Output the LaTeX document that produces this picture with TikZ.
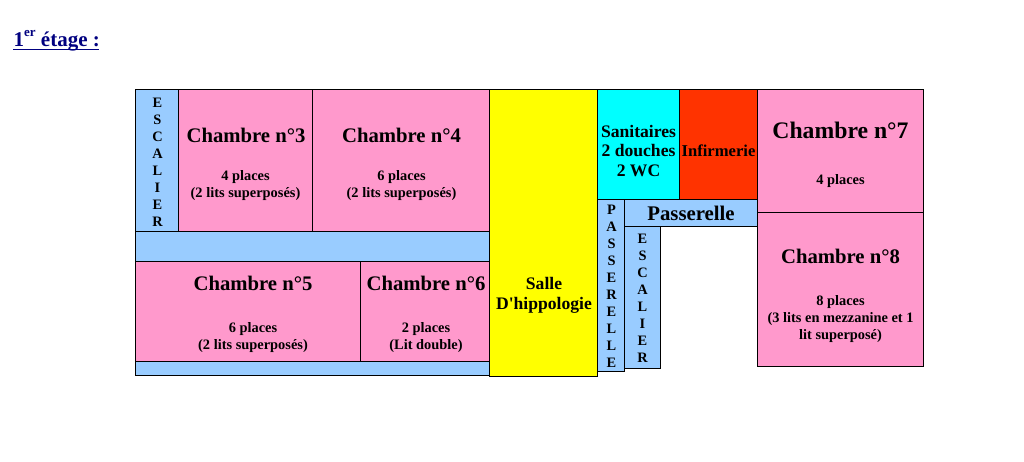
\documentclass[tikz,border=0pt]{standalone}
\usepackage{fontspec}
\setmainfont{Liberation Serif}
\definecolor{rose}{HTML}{FF99CC}
\definecolor{bleu}{HTML}{99CCFF}
\definecolor{jaune}{HTML}{FFFF00}
\definecolor{cyanb}{HTML}{00FFFF}
\definecolor{rouge}{HTML}{FF3300}
\definecolor{titre}{HTML}{000080}
\newcommand{\fs}[1]{\fontsize{#1}{#1}\selectfont\bfseries}
\newcommand{\room}[6]{%
  \pgfmathsetmacro{\rw}{#4-#2}\pgfmathsetmacro{\rh}{#5-#3}%
  \pgfmathsetmacro{\rx}{(#4+#2)/2}\pgfmathsetmacro{\ry}{(#5+#3)/2}%
  \node[roombox,fill=#6,minimum width=\rw pt,minimum height=\rh pt] (#1) at (\rx,\ry) {};}
\tikzset{
  roombox/.style={draw=black,line width=1pt,inner sep=0pt,outer sep=0pt},
  big/.style={inner sep=0pt,font=\fs{23.7},text=black},
  mid/.style={inner sep=0pt,font=\fs{20.7},text=black},
  sub/.style={inner sep=0pt,font=\fs{14.4},text=black,align=center},
  lab/.style={inner sep=0pt,font=\fs{17.6},text=black,align=center},
  vert/.style={inner sep=0pt,font=\fs{14.4},text=black,align=center},
}
\begin{document}
\begin{tikzpicture}[x=1pt,y=-1pt]
\useasboundingbox (0,0) rectangle (1024,461);
\fill[white] (0,0) rectangle (1024,461);
% title
\node[anchor=base west,inner sep=0pt,text=titre,font=\fs{21}] (titre) at (13.5,46.5) {1\raisebox{1.05ex}{\fontsize{13}{13}\selectfont\bfseries er} étage :};
\coordinate (ua) at (13,49.5);
\coordinate (ub) at (99,49.5);
\draw[titre,line width=1.6pt] (ua) -- (ub);
% left block
\room{esc1}{135.5}{89.5}{178.5}{231.5}{bleu}
\room{ch3}{178.5}{89.5}{312.5}{231.5}{rose}
\room{ch4}{312.5}{89.5}{489.5}{231.5}{rose}
\room{b1}{135.5}{231.5}{489.5}{261.5}{bleu}
\room{ch5}{135.5}{261.5}{360.5}{361.5}{rose}
\room{ch6}{360.5}{261.5}{489.5}{361.5}{rose}
\room{b2}{135.5}{361.5}{489.5}{375.5}{bleu}
\room{salle}{489.5}{89.5}{597.5}{376}{jaune}
\room{san}{597.5}{89.5}{679.5}{199.5}{cyanb}
\room{inf}{679.5}{89.5}{757.5}{199.5}{rouge}
\room{ch7}{757.5}{89.5}{923.5}{212.5}{rose}
\room{ch8}{757.5}{212.5}{923.5}{366}{rose}
\room{pv}{597.5}{199.5}{624.5}{371}{bleu}
\room{ph}{624.5}{199.5}{757.5}{226.5}{bleu}
\room{esc2}{624.5}{226.5}{660.5}{368}{bleu}
% labels
\node[vert,anchor=north] (t1) at (157.5,97.5) {E\\[2.6pt]S\\[2.6pt]C\\[2.6pt]A\\[2.6pt]L\\[2.6pt]I\\[2.6pt]E\\[2.6pt]R};
\node[mid] (t3) at (246,135) {Chambre n°3};
\node[sub] (s3) at (245.5,186) {4 places\\[2.6pt](2 lits superposés)};
\node[mid] (t4) at (401.5,135) {Chambre n°4};
\node[sub] (s4) at (401.5,186) {6 places\\[2.6pt](2 lits superposés)};
\node[mid] (t5) at (253,283.5) {Chambre n°5};
\node[sub] (s5) at (253,338) {6 places\\[2.6pt](2 lits superposés)};
\node[mid] (t6) at (426,283.5) {Chambre n°6};
\node[sub] (s6) at (426,338) {2 places\\[2.6pt](Lit double)};
\node[lab] (ts) at (544,295) {Salle\\[2.5pt]D\textquotesingle hippologie};
\node[lab] (tsan) at (638.5,151) {Sanitaires\\[2.3pt]2 douches\\[2.3pt]2 WC};
\node[lab,font=\fs{16.6}] (tinf) at (718.5,151) {Infirmerie};
\node[big] (t7) at (840.5,130.5) {Chambre n°7};
\node[sub] (s7) at (840.5,181.5) {4 places};
\node[mid] (t8) at (840.5,256) {Chambre n°8};
\node[sub] (s8) at (840.5,319) {8 places\\[2.6pt](3 lits en mezzanine et 1\\[2.6pt]lit superposé)};
\node[lab,font=\fs{20.8}] (tp) at (691,213.5) {Passerelle};
\node[vert,anchor=north] (tv) at (611.5,204.5) {P\\[2.6pt]A\\[2.6pt]S\\[2.6pt]S\\[2.6pt]E\\[2.6pt]R\\[2.6pt]E\\[2.6pt]L\\[2.6pt]L\\[2.6pt]E};
\node[vert,anchor=north] (t2) at (642.5,234) {E\\[2.6pt]S\\[2.6pt]C\\[2.6pt]A\\[2.6pt]L\\[2.6pt]I\\[2.6pt]E\\[2.6pt]R};
\end{tikzpicture}
\end{document}
